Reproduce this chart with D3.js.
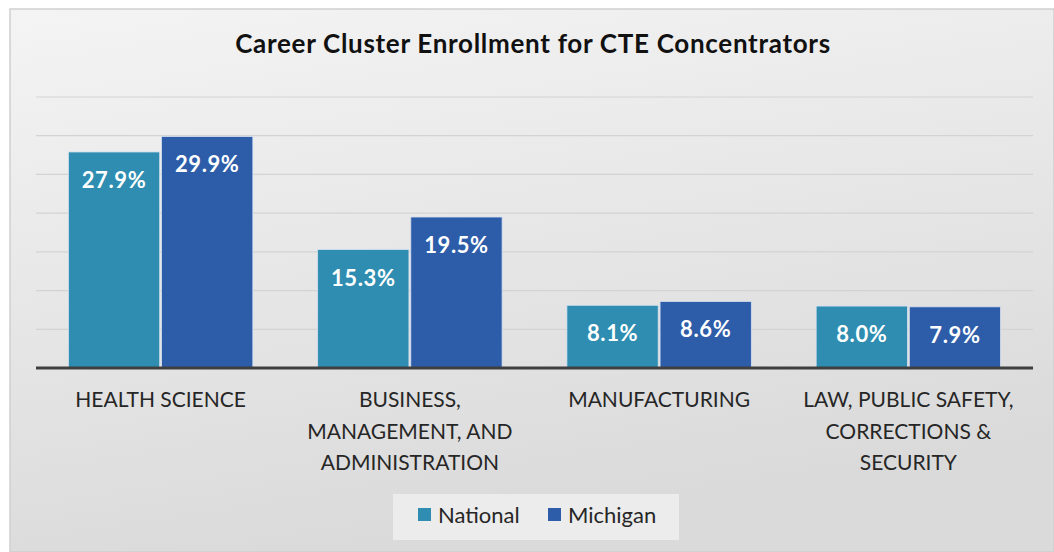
<!DOCTYPE html>
<html>
<head>
<meta charset="utf-8">
<script src="https://cdn.jsdelivr.net/npm/d3@7"></script>
<style>
  body { margin: 0; background: #fff; }
  text { font-family: Lato, "Open Sans", sans-serif; }
</style>
</head>
<body>
<div id="chart"></div>
<script>
const width = 1054;
const height = 552;

// data
const categories = [
  ['HEALTH SCIENCE'],
  ['BUSINESS,', 'MANAGEMENT, AND', 'ADMINISTRATION'],
  ['MANUFACTURING'],
  ['LAW, PUBLIC SAFETY,', 'CORRECTIONS &', 'SECURITY']
]
const seriesNames = ['National', 'Michigan']
const national = [27.9, 15.3, 8.1, 8.0]
const michigan = [29.9, 19.5, 8.6, 7.9]
const yTicks = [0, 5, 10, 15, 20, 25, 30, 35]
const colors = {National: '#2e8db0', Michigan: '#2d5ca9'}

const margin = {left: 36, right: 21, top: 97, base: 368}

const svg = d3.select('#chart')
  .append('svg')
  .attr('width', width)
  .attr('height', height)

// background with soft gradient
const defs = svg.append('defs')
const grad = defs.append('linearGradient')
  .attr('id', 'bg')
  .attr('x1', 0).attr('y1', 0).attr('x2', 0.3).attr('y2', 1)
grad.append('stop').attr('offset', '0%').attr('stop-color', '#f4f4f4')
grad.append('stop').attr('offset', '100%').attr('stop-color', '#dadada')

svg.append('rect')
  .attr('x', 10).attr('y', 9)
  .attr('width', width - 10).attr('height', height - 9)
  .attr('fill', 'url(#bg)')
  .attr('stroke', '#cfcfcf')
  .attr('stroke-width', 1.5)

svg.append('text')
  .attr('x', 533)
  .attr('y', 53)
  .attr('text-anchor', 'middle')
  .attr('font-size', 26)
  .attr('font-weight', 'bold')
  .attr('letter-spacing', 0.7)
  .attr('fill', '#111')
  .text('Career Cluster Enrollment for CTE Concentrators')

const x0 = d3.scaleBand()
  .domain(d3.range(categories.length))
  .range([margin.left, width - margin.right])
  .paddingInner(0.26)
  .paddingOuter(0.13)

const x1 = d3.scaleBand()
  .domain(seriesNames)
  .range([0, x0.bandwidth()])
  .paddingInner(0.02)

const y = d3.scaleLinear()
  .domain([0, 35])
  .range([margin.base, margin.top])

// gridlines
svg.append('g')
  .selectAll('line')
  .data(yTicks.filter(d => d > 0))
  .enter()
  .append('line')
  .attr('x1', margin.left)
  .attr('x2', width - margin.right)
  .attr('y1', d => y(d))
  .attr('y2', d => y(d))
  .attr('stroke', '#d3d3d3')
  .attr('stroke-width', 1.2)

const rows = categories.map((c, i) => ({i: i, values: [
  {key: 'National', v: national[i]},
  {key: 'Michigan', v: michigan[i]}
]}))

const groups = svg.append('g')
  .selectAll('g')
  .data(rows)
  .enter()
  .append('g')
  .attr('transform', d => `translate(${x0(d.i)},0)`)

groups.selectAll('rect')
  .data(d => d.values)
  .enter()
  .append('rect')
  .attr('x', d => x1(d.key))
  .attr('y', d => y(d.v))
  .attr('width', x1.bandwidth())
  .attr('height', d => y(0) - y(d.v))
  .attr('fill', d => colors[d.key])
  .attr('stroke', '#d6e0f0')
  .attr('stroke-width', 0.8)

groups.selectAll('text')
  .data(d => d.values)
  .enter()
  .append('text')
  .attr('x', d => x1(d.key) + x1.bandwidth() / 2)
  .attr('y', d => y(d.v) + 36)
  .attr('text-anchor', 'middle')
  .attr('font-size', 22)
  .attr('font-weight', 'bold')
  .attr('letter-spacing', 0.6)
  .attr('fill', '#fff')
  .text(d => d.v.toFixed(1) + '%')

// baseline
svg.append('line')
  .attr('x1', margin.left)
  .attr('x2', width - margin.right)
  .attr('y1', y(0))
  .attr('y2', y(0))
  .attr('stroke', '#3f3f3f')
  .attr('stroke-width', 3)

// category labels
const catLabels = svg.append('g')
  .selectAll('text')
  .data(categories)
  .enter()
  .append('text')
  .attr('text-anchor', 'middle')
  .attr('font-size', 21)
  .attr('fill', '#262626')
  .attr('transform', (d, i) => `translate(${x0(i) + x0.bandwidth() / 2},407)`)

catLabels.selectAll('tspan')
  .data(d => d)
  .enter()
  .append('tspan')
  .attr('x', 0)
  .attr('y', (d, i) => i * 31.5)
  .text(d => d)

// legend
const legend = svg.append('g')
legend.append('rect')
  .attr('x', 393).attr('y', 494)
  .attr('width', 286).attr('height', 46)
  .attr('fill', '#ececec')

const legendX = d3.scaleOrdinal().domain(seriesNames).range([418, 548])
legend.selectAll('.swatch')
  .data(seriesNames)
  .enter()
  .append('rect')
  .attr('class', 'swatch')
  .attr('x', d => legendX(d))
  .attr('y', 508)
  .attr('width', 13)
  .attr('height', 13)
  .attr('fill', d => colors[d])

legend.selectAll('.ltext')
  .data(seriesNames)
  .enter()
  .append('text')
  .attr('class', 'ltext')
  .attr('x', d => legendX(d) + 20)
  .attr('y', 523)
  .attr('font-size', 22)
  .attr('fill', '#262626')
  .text(d => d)
</script>
</body>
</html>
